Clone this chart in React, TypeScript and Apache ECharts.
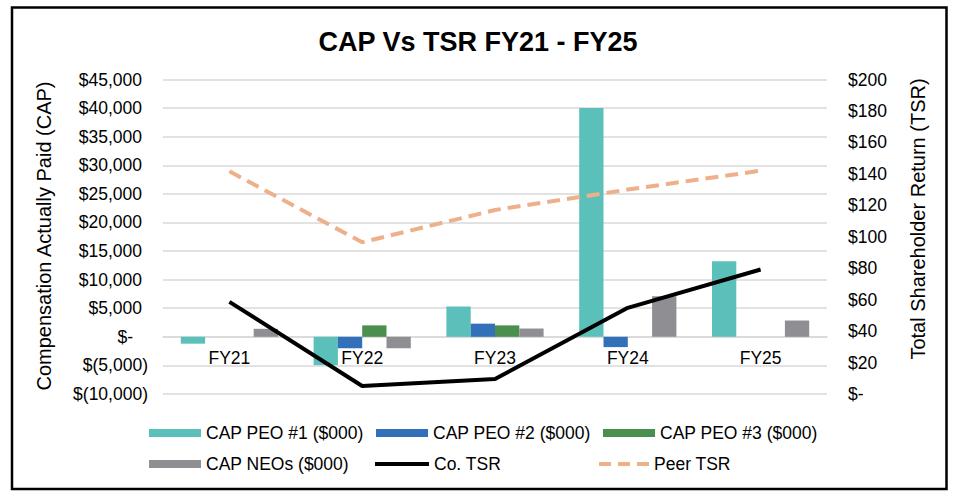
import React, { useEffect, useRef } from "react";
import * as echarts from "echarts";

const categories = ["FY21", "FY22", "FY23", "FY24", "FY25"];
const capPeo1 = [-1200, -4950, 5300, 40000, 13200];
const capPeo2 = [0, -2000, 2300, -1800, 0];
const capPeo3 = [0, 2000, 2000, 0, 0];
const capNeos = [1400, -2000, 1450, 7100, 2850];
const coTsr = [58.6, 5.1, 9.5, 54.8, 79.2];
const peerTsr = [141.6, 96.5, 117, 130, 142];

const seriesNames = [
  "CAP PEO #1 ($000)",
  "CAP PEO #2 ($000)",
  "CAP PEO #3 ($000)",
  "CAP NEOs ($000)",
  "Co. TSR",
  "Peer TSR",
];

const FONT = "Arial, 'Liberation Sans', sans-serif";

function fmtNum(v: number): string {
  return Math.abs(v).toLocaleString("en-US");
}

export default function App() {
  const ref = useRef<HTMLDivElement>(null);
  useEffect(() => {
    if (!ref.current) return;
    const chart = echarts.init(ref.current, undefined, { renderer: "svg" });
    const gridTop = 79.5;
    const gridBottomPx = 394;
    const yMin = -10000;
    const yMax = 45000;
    const zeroPx = gridTop + ((gridBottomPx - gridTop) * yMax) / (yMax - yMin);
    const legendBase = {
      orient: "horizontal" as const,
      padding: 0,
      itemWidth: 52,
      itemGap: 6,
      textStyle: { fontFamily: FONT, fontSize: 17.5, color: "#000" },
    };
    const legendPos = [
      [149, 424],
      [376, 424],
      [603, 424],
      [149, 455],
      [375, 455],
      [599, 455],
    ];
    const legendIcons = [
      "rect",
      "rect",
      "rect",
      "rect",
      "path://M0,0L54,0L54,4L0,4Z",
      "path://M0,0L12,0L12,4L0,4Z M19,0L31,0L31,4L19,4Z M38,0L50,0L50,4L38,4Z",
    ];
    const legendW = [52, 52, 52, 52, 54, 50];
    const legendH = [8, 8, 8, 8, 4, 4];
    const barColors = ["#5BBFBA", "#3370BA", "#4B8F4F", "#8E8E93"];
    const barData = [capPeo1, capPeo2, capPeo3, capNeos];
    const option: any = {
      animation: false,
      title: {
        text: "CAP Vs TSR FY21 - FY25",
        left: "center",
        top: 28,
        padding: 0,
        textStyle: { fontFamily: FONT, fontSize: 27, fontWeight: "bold", color: "#000" },
      },
      graphic: [
        {
          type: "rect",
          shape: { x: 12, y: 7.5, width: 934.5, height: 481.5 },
          style: { fill: "none", stroke: "#000", lineWidth: 2.5 },
          z: 100,
        },
        {
          type: "text",
          x: 44,
          y: 236,
          rotation: Math.PI / 2,
          style: {
            text: "Compensation Actually Paid (CAP)",
            font: `20px ${FONT}`,
            fill: "#000",
            textAlign: "center",
            textVerticalAlign: "middle",
          },
        },
        {
          type: "text",
          x: 917.5,
          y: 219,
          rotation: Math.PI / 2,
          style: {
            text: "Total Shareholder Return (TSR)",
            font: `20px ${FONT}`,
            fill: "#000",
            textAlign: "center",
            textVerticalAlign: "middle",
          },
        },
      ],
      legend: seriesNames.map((n, i) => ({
        ...legendBase,
        itemWidth: legendW[i],
        itemHeight: legendH[i],
        data: [{ name: n, icon: legendIcons[i] }],
        left: legendPos[i][0],
        top: legendPos[i][1],
      })),
      grid: { left: 163, right: 129, top: gridTop, bottom: 500 - gridBottomPx, containLabel: false },
      xAxis: {
        type: "category",
        data: categories,
        position: "bottom",
        offset: -(gridBottomPx - zeroPx),
        axisLine: {
          show: true,
          onZero: false,
          lineStyle: { color: "#D9D9D9", width: 1.5 },
        },
        axisTick: { show: false },
        axisLabel: { fontFamily: FONT, fontSize: 17.5, color: "#000", margin: 12 },
        splitLine: { show: false },
      },
      yAxis: [
        {
          type: "value",
          min: yMin,
          max: yMax,
          interval: 5000,
          axisLine: { show: false },
          axisTick: { show: false },
          splitLine: { lineStyle: { color: "#D9D9D9", width: 1.5 } },
          axisLabel: {
            margin: 15,
            formatter: (v: number) => {
              if (v === 0) return "{z|$-}";
              if (v < 0) return "{n|$(" + fmtNum(v) + ")}";
              return "{p|$" + fmtNum(v) + "}";
            },
            rich: {
              z: { fontFamily: FONT, fontSize: 17.5, color: "#000", padding: [0, 15, 0, 0] },
              n: { fontFamily: FONT, fontSize: 17.5, color: "#000" },
              p: { fontFamily: FONT, fontSize: 17.5, color: "#000", padding: [0, 6, 0, 0] },
            },
          },
        },
        {
          type: "value",
          min: 0,
          max: 200,
          interval: 20,
          position: "right",
          axisLine: { show: false },
          axisTick: { show: false },
          splitLine: { show: false },
          axisLabel: {
            margin: 21,
            fontFamily: FONT,
            fontSize: 17.5,
            color: "#000",
            formatter: (v: number) => (v === 0 ? "$-" : "$" + v),
          },
        },
      ],
      series: [
        ...barData.map((d, i) => ({
          name: seriesNames[i],
          type: "bar",
          data: d,
          yAxisIndex: 0,
          barWidth: 24.3,
          barGap: "0%",
          itemStyle: { color: barColors[i] },
        })),
        {
          name: seriesNames[4],
          type: "line",
          data: coTsr,
          yAxisIndex: 1,
          symbol: "none",
          lineStyle: { color: "#000", width: 4 },
          itemStyle: { color: "#000" },
          z: 5,
        },
        {
          name: seriesNames[5],
          type: "line",
          data: peerTsr,
          yAxisIndex: 1,
          symbol: "none",
          lineStyle: { color: "#EEB08A", width: 4, type: [13, 7] },
          itemStyle: { color: "#EEB08A" },
          z: 5,
        },
      ],
    };
    chart.setOption(option);
    return () => chart.dispose();
  }, []);
  return (
    <div
      ref={ref}
      style={{ position: "absolute", left: 0, top: 0, width: 956, height: 500, background: "#fff" }}
    />
  );
}
